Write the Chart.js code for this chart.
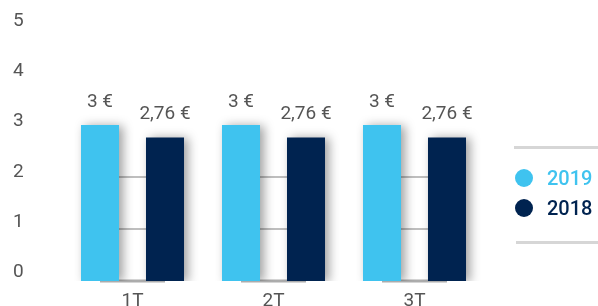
<!DOCTYPE html>
<html><head><meta charset="utf-8">
<script src="https://cdn.jsdelivr.net/npm/chart.js@4"></script>
<style>
html,body{margin:0;padding:0;background:#fff;}
#wrap{position:relative;width:598px;height:306px;overflow:hidden;}
canvas{position:absolute;left:0;top:0;}
.lg-line{position:absolute;height:3px;background:#d6d6d6;}
.lg-item{position:absolute;left:515px;height:22px;display:flex;align-items:center;font-family:Roboto,sans-serif;font-weight:500;font-size:20px;line-height:22px;}
.dot{width:18px;height:18px;border-radius:50%;margin-right:14px;}
</style></head>
<body><div id="wrap"><canvas id="c" width="598" height="306"></canvas>
<div class="lg-line" style="left:514px;top:146px;width:84px"></div>
<div class="lg-line" style="left:516px;top:241px;width:82px"></div>
<div id="legend"></div>
</div>
<script>
const categories = ['1T', '2T', '3T'];
const series2019 = [3, 3, 3];
const series2018 = [2.76, 2.76, 2.76];
const seriesNames = ['2019', '2018'];
const yTickValues = [0, 1, 2, 3, 4, 5];
const gridValues = [0, 1, 2];
const seriesColors = ['#3fc3ef', '#002350'];

const FONT = 'Roboto, sans-serif';
const TEXT = '#555555';

function fmt(v) { return String(v).replace('.', ',') + ' €'; }

// HTML legend built from series names/colours
const legendEl = document.getElementById('legend');
seriesNames.forEach((name, i) => {
  const d = document.createElement('div');
  d.className = 'lg-item';
  d.style.top = (167 + i * 29.5) + 'px';
  d.style.color = seriesColors[i];
  d.innerHTML = '<span class="dot" style="background:' + seriesColors[i] + '"></span><span>' + name + '</span>';
  legendEl.appendChild(d);
});

const pairGrid = {
  id: 'pairGrid',
  beforeDatasetsDraw(chart) {
    const ctx = chart.ctx;
    const m0 = chart.getDatasetMeta(0), m1 = chart.getDatasetMeta(1);
    const ys = chart.scales.y;
    ctx.save();
    categories.forEach((c, i) => {
      const a = m0.data[i], b = m1.data[i];
      gridValues.forEach(v => {
        const py = ys.getPixelForValue(v);
        ctx.beginPath();
        ctx.lineWidth = v === 0 ? 3 : 1.5;
        ctx.strokeStyle = v === 0 ? '#acacac' : '#a8a8a8';
        ctx.moveTo(a.x, py);
        ctx.lineTo(b.x, py);
        ctx.stroke();
      });
    });
    ctx.restore();
  }
};

const barShadow = {
  id: 'barShadow',
  beforeDatasetDraw(chart) {
    const ctx = chart.ctx;
    ctx.save();
    ctx.shadowColor = 'rgba(0,0,0,0.38)';
    ctx.shadowBlur = 10;
    ctx.shadowOffsetX = 4;
    ctx.shadowOffsetY = 1;
  },
  afterDatasetDraw(chart) {
    chart.ctx.restore();
  }
};

const valueLabels = {
  id: 'valueLabels',
  afterDatasetsDraw(chart) {
    const ctx = chart.ctx;
    ctx.save();
    ctx.font = '19px ' + FONT;
    ctx.fillStyle = TEXT;
    ctx.textAlign = 'center';
    ctx.textBaseline = 'alphabetic';
    chart.data.datasets.forEach((ds, di) => {
      chart.getDatasetMeta(di).data.forEach((el, i) => {
        ctx.fillText(fmt(ds.data[i]), el.x, el.y - 18);
      });
    });
    ctx.restore();
  }
};

new Chart(document.getElementById('c'), {
  type: 'bar',
  data: {
    labels: categories,
    datasets: [
      { label: seriesNames[0], data: series2019, backgroundColor: seriesColors[0], categoryPercentage: 0.922, barPercentage: 0.585 },
      { label: seriesNames[1], data: series2018, backgroundColor: seriesColors[1], categoryPercentage: 0.922, barPercentage: 0.585 }
    ]
  },
  options: {
    responsive: false,
    animation: false,
    devicePixelRatio: 1,
    layout: { padding: { top: 21, left: 13, right: 113, bottom: 0 } },
    plugins: { legend: { display: false }, tooltip: { enabled: false } },
    scales: {
      x: {
        grid: { display: false },
        border: { display: false },
        ticks: { font: { family: FONT, size: 19 }, color: TEXT, padding: 1 },
        afterFit: s => { s.height = 25; }
      },
      y: { display: false, min: 0, max: 5 },
      yl: {
        position: 'left',
        min: -0.18,
        max: 5.01,
        grid: { display: false },
        border: { display: false },
        ticks: { crossAlign: 'far', font: { family: FONT, size: 19 }, color: TEXT, padding: 0 },
        afterBuildTicks: s => { s.ticks = yTickValues.map(v => ({ value: v })); },
        afterFit: s => { s.width = 49; }
      }
    }
  },
  plugins: [pairGrid, barShadow, valueLabels]
});
</script>
</body></html>
